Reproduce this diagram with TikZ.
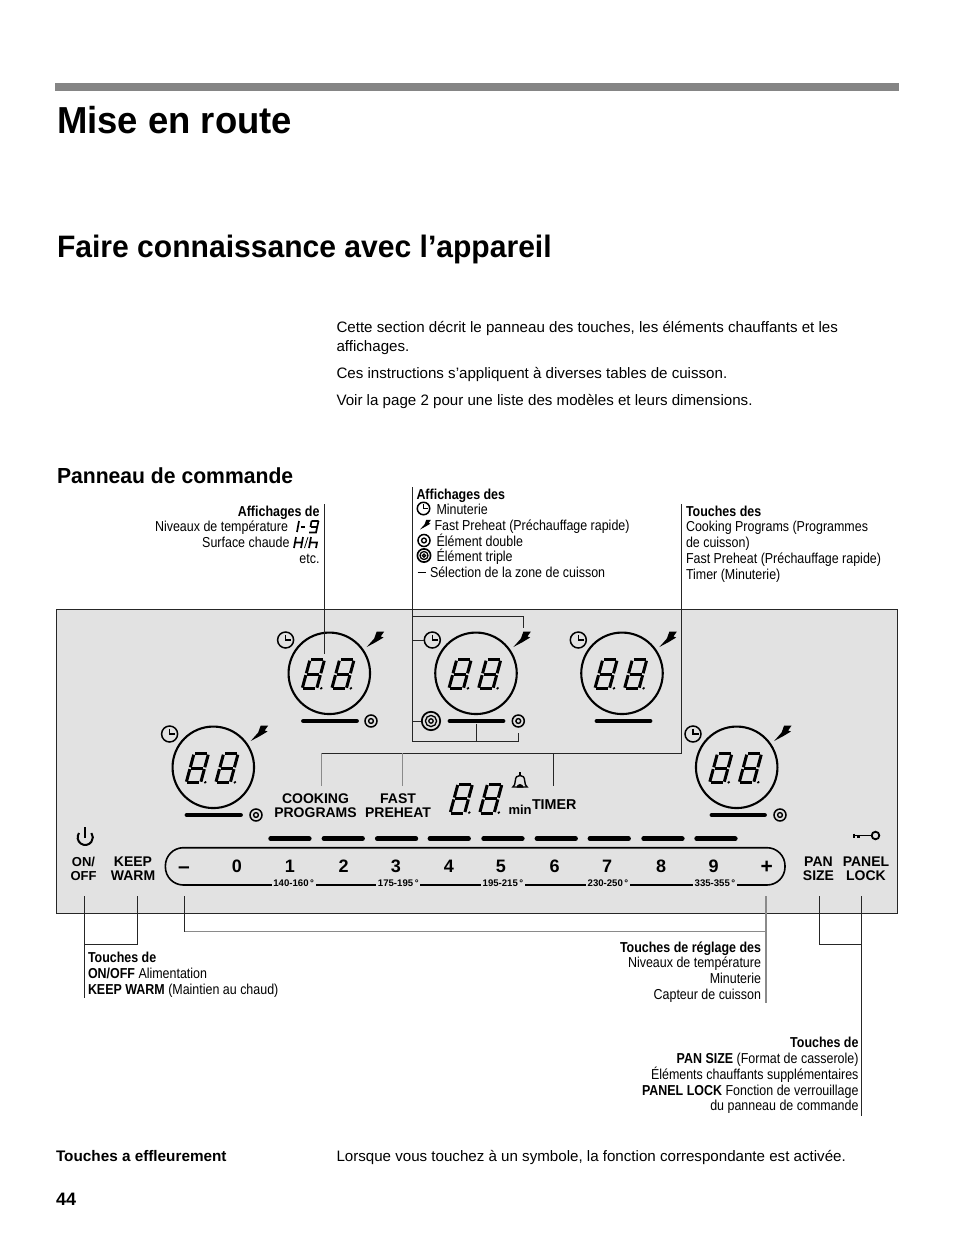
\documentclass[tikz,border=0pt]{standalone}
\usepackage{fontspec}
\setmainfont{Liberation Sans}
\newfontfamily\narrowfont[FakeStretch=0.865]{Liberation Sans}
\newfontfamily\medfont[FakeStretch=0.97]{Liberation Sans Bold}
\definecolor{panelgray}{HTML}{E2E2E2}
\definecolor{bargray}{HTML}{858585}
\definecolor{leadgray}{HTML}{8A8A8A}
\tikzset{
  txt/.style={inner sep=0pt,outer sep=0pt,text=black},
  lw/.style={txt,anchor=base west},
  le/.style={txt,anchor=base east},
  ctext/.style={txt,align=center,font=\fontsize{14}{14}\selectfont\bfseries},
  note/.style={font=\narrowfont\fontsize{14.4}{16}\selectfont},
  body/.style={font=\fontsize{15.12}{15}\selectfont},
  lead/.style={draw=black!85,line width=0.8pt},
  leadg/.style={draw=leadgray,line width=1.1pt},
  ring/.style={circle,draw=black,line width=2.1pt,minimum size=81.5pt,inner sep=0pt},
  selbar/.style={line width=4.8pt,line cap=round,draw=black},
  seg/.style={line width=3pt,draw=black},
  sev/.style={line width=1.7pt,draw=black},
  tempbl/.style={txt,fill=panelgray,inner sep=1.5pt,font=\fontsize{9.6}{9.6}\selectfont\bfseries},
  slnum/.style={txt,font=\fontsize{18}{18}\selectfont\bfseries},
  clock/.pic={
    \draw[line width=1.5pt,draw=black] (0,0) circle[radius=8];
    \draw[line width=1.5pt,draw=black] (0,-5.5) -- (0,0) -- (5.5,0);
  },
  bolt/.pic={
    \fill[black] (0,0) -- (7.5,-8.5) -- (10,-15.5) -- (17.5,-15.5) -- (14,-10.5) -- (16.8,-9.5) -- (9,-4.8) -- cycle;
  },
  dbl/.pic={
    \draw[line width=1.5pt,draw=black] (0,0) circle[radius=6];
    \draw[line width=1.4pt,draw=black] (0,0) circle[radius=2.4];
  },
  tpl/.pic={
    \draw[line width=1.7pt,draw=black] (0,0) circle[radius=9.2];
    \draw[line width=1.3pt,draw=black] (0,0) circle[radius=5.6];
    \draw[line width=1.3pt,draw=black] (0,0) circle[radius=2.2];
  },
  eight/.pic={
    \begin{scope}[xslant=0.27]
      \draw[seg] (1.3,0) -- (13.2,0);
      \draw[seg] (1.3,14.5) -- (13.2,14.5);
      \draw[seg] (1.3,29) -- (13.2,29);
      \draw[seg] (0,1) -- (0,13.6);
      \draw[seg] (0,15.4) -- (0,28);
      \draw[seg] (14.5,1) -- (14.5,13.6);
      \draw[seg] (14.5,15.4) -- (14.5,28);
      \fill[black] (19,28.6) circle[radius=1.4];
    \end{scope}
  }
}
% dial: name, centre x, centre y
\newcommand{\dialring}[3]{%
  \node[ring] (#1) at (#2,#3) {};
  \pic at ([shift={(-19.3,-13.6)}]#1.center) {eight};
  \pic at ([shift={(10.3,-13.6)}]#1.center) {eight};
  \pic at ([shift={(-43.7,-33.3)}]#1.center) {clock};
  \pic at ([shift={(37.4,-26.3)}]#1.center) {bolt};
}
\begin{document}
\begin{tikzpicture}[x=1pt,y=-1pt]
\useasboundingbox (0,0) rectangle (954,1235);
\fill[white] (0,0) rectangle (954,1235);

% header
\fill[bargray] (55,83) rectangle (899,90.5);
\node[lw,font=\medfont\fontsize{37.6}{38}\selectfont] (title) at (57,133.5) {Mise en route};
\node[lw,font=\medfont\fontsize{31}{31}\selectfont] (heading) at (57,257) {Faire connaissance avec l’appareil};
\node[lw,body] (p1a) at (336.5,332) {Cette section décrit le panneau des touches, les éléments chauffants et les};
\node[lw,body] (p1b) at (336.5,351) {affichages.};
\node[lw,body] (p2) at (336.5,378) {Ces instructions s’appliquent à diverses tables de cuisson.};
\node[lw,body] (p3) at (336.5,405) {Voir la page 2 pour une liste des modèles et leurs dimensions.};
\node[lw,font=\medfont\fontsize{21.8}{22}\selectfont] (sub) at (57,483.5) {Panneau de commande};

% panel
\node[draw=black!85,line width=0.9pt,fill=panelgray,minimum width=841pt,minimum height=304pt,inner sep=0pt,anchor=north west] (panel) at (56,609) {};

% dials
\dialring{dialA}{329.3}{673.3}
\dialring{dialB}{476}{673.3}
\dialring{dialC}{622}{673.3}
\dialring{dialD}{213.3}{767.3}
\dialring{dialE}{736.7}{767.3}
\draw[selbar] (303.5,721) -- (356.5,721);
\draw[selbar] (450,721) -- (503,721);
\draw[selbar] (597,721) -- (650,721);
\draw[selbar] (187,815) -- (240.5,815);
\draw[selbar] (712,815) -- (764.5,815);
\pic at (371,721) {dbl};
\pic at (518.3,721) {dbl};
\pic at (431,721) {tpl};
\pic at (256,815) {dbl};
\pic at (780,815) {dbl};

% timer display
\pic at (458,784) {eight};
\pic at (487.5,784) {eight};
\draw[line width=1.4pt,draw=black] (512.8,787) .. controls (514.5,786) and (515,784) .. (515.3,781) .. controls (515.5,777) and (517,775.5) .. (520,775.5) .. controls (523,775.5) and (524.5,777) .. (524.7,781) .. controls (525,784) and (525.5,786) .. (527.2,787) -- cycle;
\draw[line width=1.4pt,draw=black] (520,775.5) -- (520,771.5);
\fill[black] (516.5,787.5) arc[start angle=180,end angle=360,radius=3.5] -- cycle;
\node[lw,font=\fontsize{13}{13}\selectfont\bfseries] (minlab) at (508.5,814) {min};
\node[lw,font=\fontsize{14.3}{14}\selectfont\bfseries] (timer) at (532,809.5) {TIMER};

% labels
\node[ctext] (cook) at (315.5,805.5) {COOKING\\PROGRAMS};
\node[ctext] (fast) at (398,805.5) {FAST\\PREHEAT};
\node[ctext,font=\fontsize{13}{14}\selectfont\bfseries] (onoff) at (83.5,868.5) {ON/\\OFF};
\node[ctext] (keep) at (133,868.5) {KEEP\\WARM};
\node[ctext] (pan) at (818.5,868.5) {PAN\\SIZE};
\node[ctext] (lock) at (866,868.5) {PANEL\\LOCK};

% power icon and key icon
\draw[line width=2pt,draw=black] (79,833) arc[start angle=215,end angle=-35,radius=7.6] ;
\draw[line width=2pt,draw=black] (85,827) -- (85,838);
\draw[line width=1.7pt,draw=black] (871.5,835.5) -- (854,835.5);
\draw[line width=1.5pt,draw=black] (854,833.5) -- (854,838);
\fill[black] (857,834.5) rectangle (860,838);
\draw[line width=1.8pt,draw=black] (875.5,835.5) circle[radius=3.8];

% touch slider bars
\foreach \xa in {268.7,322,375.3,428,481.7,535,588,641.7,694.7}
  \draw[line width=4.8pt,line cap=round,draw=black] (\xa+2,838.7) -- (\xa+40.5,838.7);

% slider outline
\draw[line width=1.6pt,draw=black,rounded corners=18pt] (200,847.7) -- (165.4,847.7) -- (165.4,885) -- (785,885) -- (785,847.7) -- cycle;
\node[tempbl] (t1) at (293.7,883.5) {140-160\,°};
\node[tempbl] (t2) at (398.3,883.5) {175-195\,°};
\node[tempbl] (t3) at (503,883.5) {195-215\,°};
\node[tempbl] (t4) at (608,883.5) {230-250\,°};
\node[tempbl] (t5) at (715,883.5) {335-355\,°};
\node[slnum,anchor=base,font=\fontsize{21}{21}\selectfont\bfseries] (sm) at (184,873) {–};
\node[slnum,anchor=base] (s0) at (237,872.5) {0};
\node[slnum,anchor=base] (s1) at (290,872.5) {1};
\node[slnum,anchor=base] (s2) at (343.7,872.5) {2};
\node[slnum,anchor=base] (s3) at (396,872.5) {3};
\node[slnum,anchor=base] (s4) at (449,872.5) {4};
\node[slnum,anchor=base] (s5) at (501,872.5) {5};
\node[slnum,anchor=base] (s6) at (554.7,872.5) {6};
\node[slnum,anchor=base] (s7) at (607,872.5) {7};
\node[slnum,anchor=base] (s8) at (661,872.5) {8};
\node[slnum,anchor=base] (s9) at (713.7,872.5) {9};
\node[slnum,anchor=base,font=\fontsize{21}{21}\selectfont\bfseries] (sp) at (766.7,873.5) {+};

% leaders: upper
\coordinate (la1) at (324.3,504); \coordinate (la2) at (324.3,653.5);
\draw[lead] (la1) -- (la2);
\coordinate (lb1) at (412.5,487); \coordinate (lb2) at (412.5,741.7);
\coordinate (lb3) at (518,741.7); \coordinate (lb4) at (518,733);
\draw[lead] (lb1) -- (lb2) -- (lb3) -- (lb4);
\coordinate (lb5) at (476.3,723.5); \coordinate (lb6) at (476.3,741.7);
\draw[lead] (lb5) -- (lb6);
\coordinate (lb7) at (412.5,616); \coordinate (lb8) at (523.5,616); \coordinate (lb9) at (523.5,627.7);
\draw[lead] (lb7) -- (lb8) -- (lb9);
\coordinate (lb10) at (412.5,640); \coordinate (lb11) at (424,640);
\draw[lead] (lb10) -- (lb11);
\coordinate (lb12) at (412.5,721); \coordinate (lb13) at (421,721);
\draw[lead] (lb12) -- (lb13);
\coordinate (lc1) at (681.7,504); \coordinate (lc2) at (681.7,753.3); \coordinate (lc3) at (321.7,753.3); \coordinate (lc4) at (321.7,785.7);
\draw[lead] (lc1) -- (lc2) -- (lc3);
\draw[leadg] (lc3) -- (lc4);
\coordinate (lc5) at (402.7,753.3); \coordinate (lc6) at (402.7,785.7);
\draw[leadg] (lc5) -- (lc6);
\coordinate (lc7) at (553.3,753.3); \coordinate (lc8) at (553.3,786);
\draw[lead] (lc7) -- (lc8);

% leaders: lower
\coordinate (ld1) at (84.3,896); \coordinate (ld2) at (84.3,998);
\draw[lead] (ld1) -- (ld2);
\coordinate (ld3) at (137.3,896); \coordinate (ld4) at (137.3,944.3); \coordinate (ld5) at (84.3,944.3);
\draw[lead] (ld3) -- (ld4) -- (ld5);
\coordinate (le1) at (184.5,896); \coordinate (le2) at (184.5,931.7); \coordinate (le3) at (766,931.7); \coordinate (le4) at (766,896); \coordinate (le5) at (766,1003);
\draw[lead] (le1) -- (le2);
\draw[leadg] (le2) -- (le3);
\draw[leadg] (le4) -- (le5);
\coordinate (lf1) at (819.5,896); \coordinate (lf2) at (819.5,944.3); \coordinate (lf3) at (861,944.3); \coordinate (lf4) at (861,896); \coordinate (lf5) at (861,1116);
\draw[lead] (lf1) -- (lf2) -- (lf3);
\draw[lead] (lf4) -- (lf5);

% callout: Affichages de
\node[le,note] (a1) at (319.5,516) {\bfseries Affichages de};
\node[le,note] (a2) at (288,531) {Niveaux de température};
\node[le,note] (a3) at (289.5,547) {Surface chaude};
\node[le,note] (a4) at (319.5,563) {etc.};
% 1-9 and H/h in segment style
\draw[sev] (299,521) -- (297,532);
\draw[sev] (301,527) -- (305,527);
\draw[sev] (311,527) -- (317.5,527) (311.5,521) -- (318.5,521) (318.5,521) -- (316,532.5) -- (309,532.5) (311.5,521) -- (310.5,527);
\draw[sev] (296,537) -- (294,548) (303,537) -- (301,548) (295,542.5) -- (302,542.5);
\draw[line width=0.8pt,draw=black] (308,537) -- (304.5,548);
\draw[sev] (311,537) -- (309,548) (310,542.5) -- (317,542.5) -- (316,548);

% callout: Affichages des
\node[lw,note] (b1) at (416.5,499) {\bfseries Affichages des};
\pic[scale=0.78] at (423.5,508.5) {clock};
\node[lw,note] (b2) at (436.5,514) {Minuterie};
\pic[scale=0.62] at (420,529.5) {bolt};
\node[lw,note] (b3) at (434.5,530) {Fast Preheat (Préchauffage rapide)};
\pic at (424,540.5) {dbl};
\node[lw,note] (b4) at (436.5,546) {Élément double};
\pic[scale=0.72] at (424,555.5) {tpl};
\node[lw,note] (b5) at (436.5,561) {Élément triple};
\draw[line width=1.8pt,draw=black] (417.5,572.5) -- (425.5,572.5);
\node[lw,note] (b6) at (430,577) {Sélection de la zone de cuisson};

% callout: Touches des
\node[lw,note] (c1) at (686,516) {\bfseries Touches des};
\node[lw,note] (c2) at (686,531) {Cooking Programs (Programmes};
\node[lw,note] (c3) at (686,547) {de cuisson)};
\node[lw,note] (c4) at (686,563) {Fast Preheat (Préchauffage rapide)};
\node[lw,note] (c5) at (686,579) {Timer (Minuterie)};

% callout: on/off
\node[lw,note] (d1) at (88,962) {\bfseries Touches de};
\node[lw,note] (d2) at (88,978) {{\bfseries ON/OFF} Alimentation};
\node[lw,note] (d3) at (88,994) {{\bfseries KEEP WARM} (Maintien au chaud)};

% callout: reglage
\node[le,note] (e1) at (761,952) {\bfseries Touches de réglage des};
\node[le,note] (e2) at (761,967) {Niveaux de température};
\node[le,note] (e3) at (761,983) {Minuterie};
\node[le,note] (e4) at (761,999) {Capteur de cuisson};

% callout: pan size
\node[le,note] (f1) at (858.5,1047) {\bfseries Touches de};
\node[le,note] (f2) at (858.5,1063) {{\bfseries PAN SIZE} (Format de casserole)};
\node[le,note] (f3) at (858.5,1079) {Éléments chauffants supplémentaires};
\node[le,note] (f4) at (858.5,1095) {{\bfseries PANEL LOCK} Fonction de verrouillage};
\node[le,note] (f5) at (858.5,1110) {du panneau de commande};

% footer
\node[lw,font=\fontsize{15.3}{15}\selectfont\bfseries] (g1) at (56,1161) {Touches a effleurement};
\node[lw,body] (g2) at (336.5,1161) {Lorsque vous touchez à un symbole, la fonction correspondante est activée.};
\node[lw,font=\fontsize{18}{18}\selectfont\bfseries] (g3) at (56,1205.5) {44};
\end{tikzpicture}
\end{document}
